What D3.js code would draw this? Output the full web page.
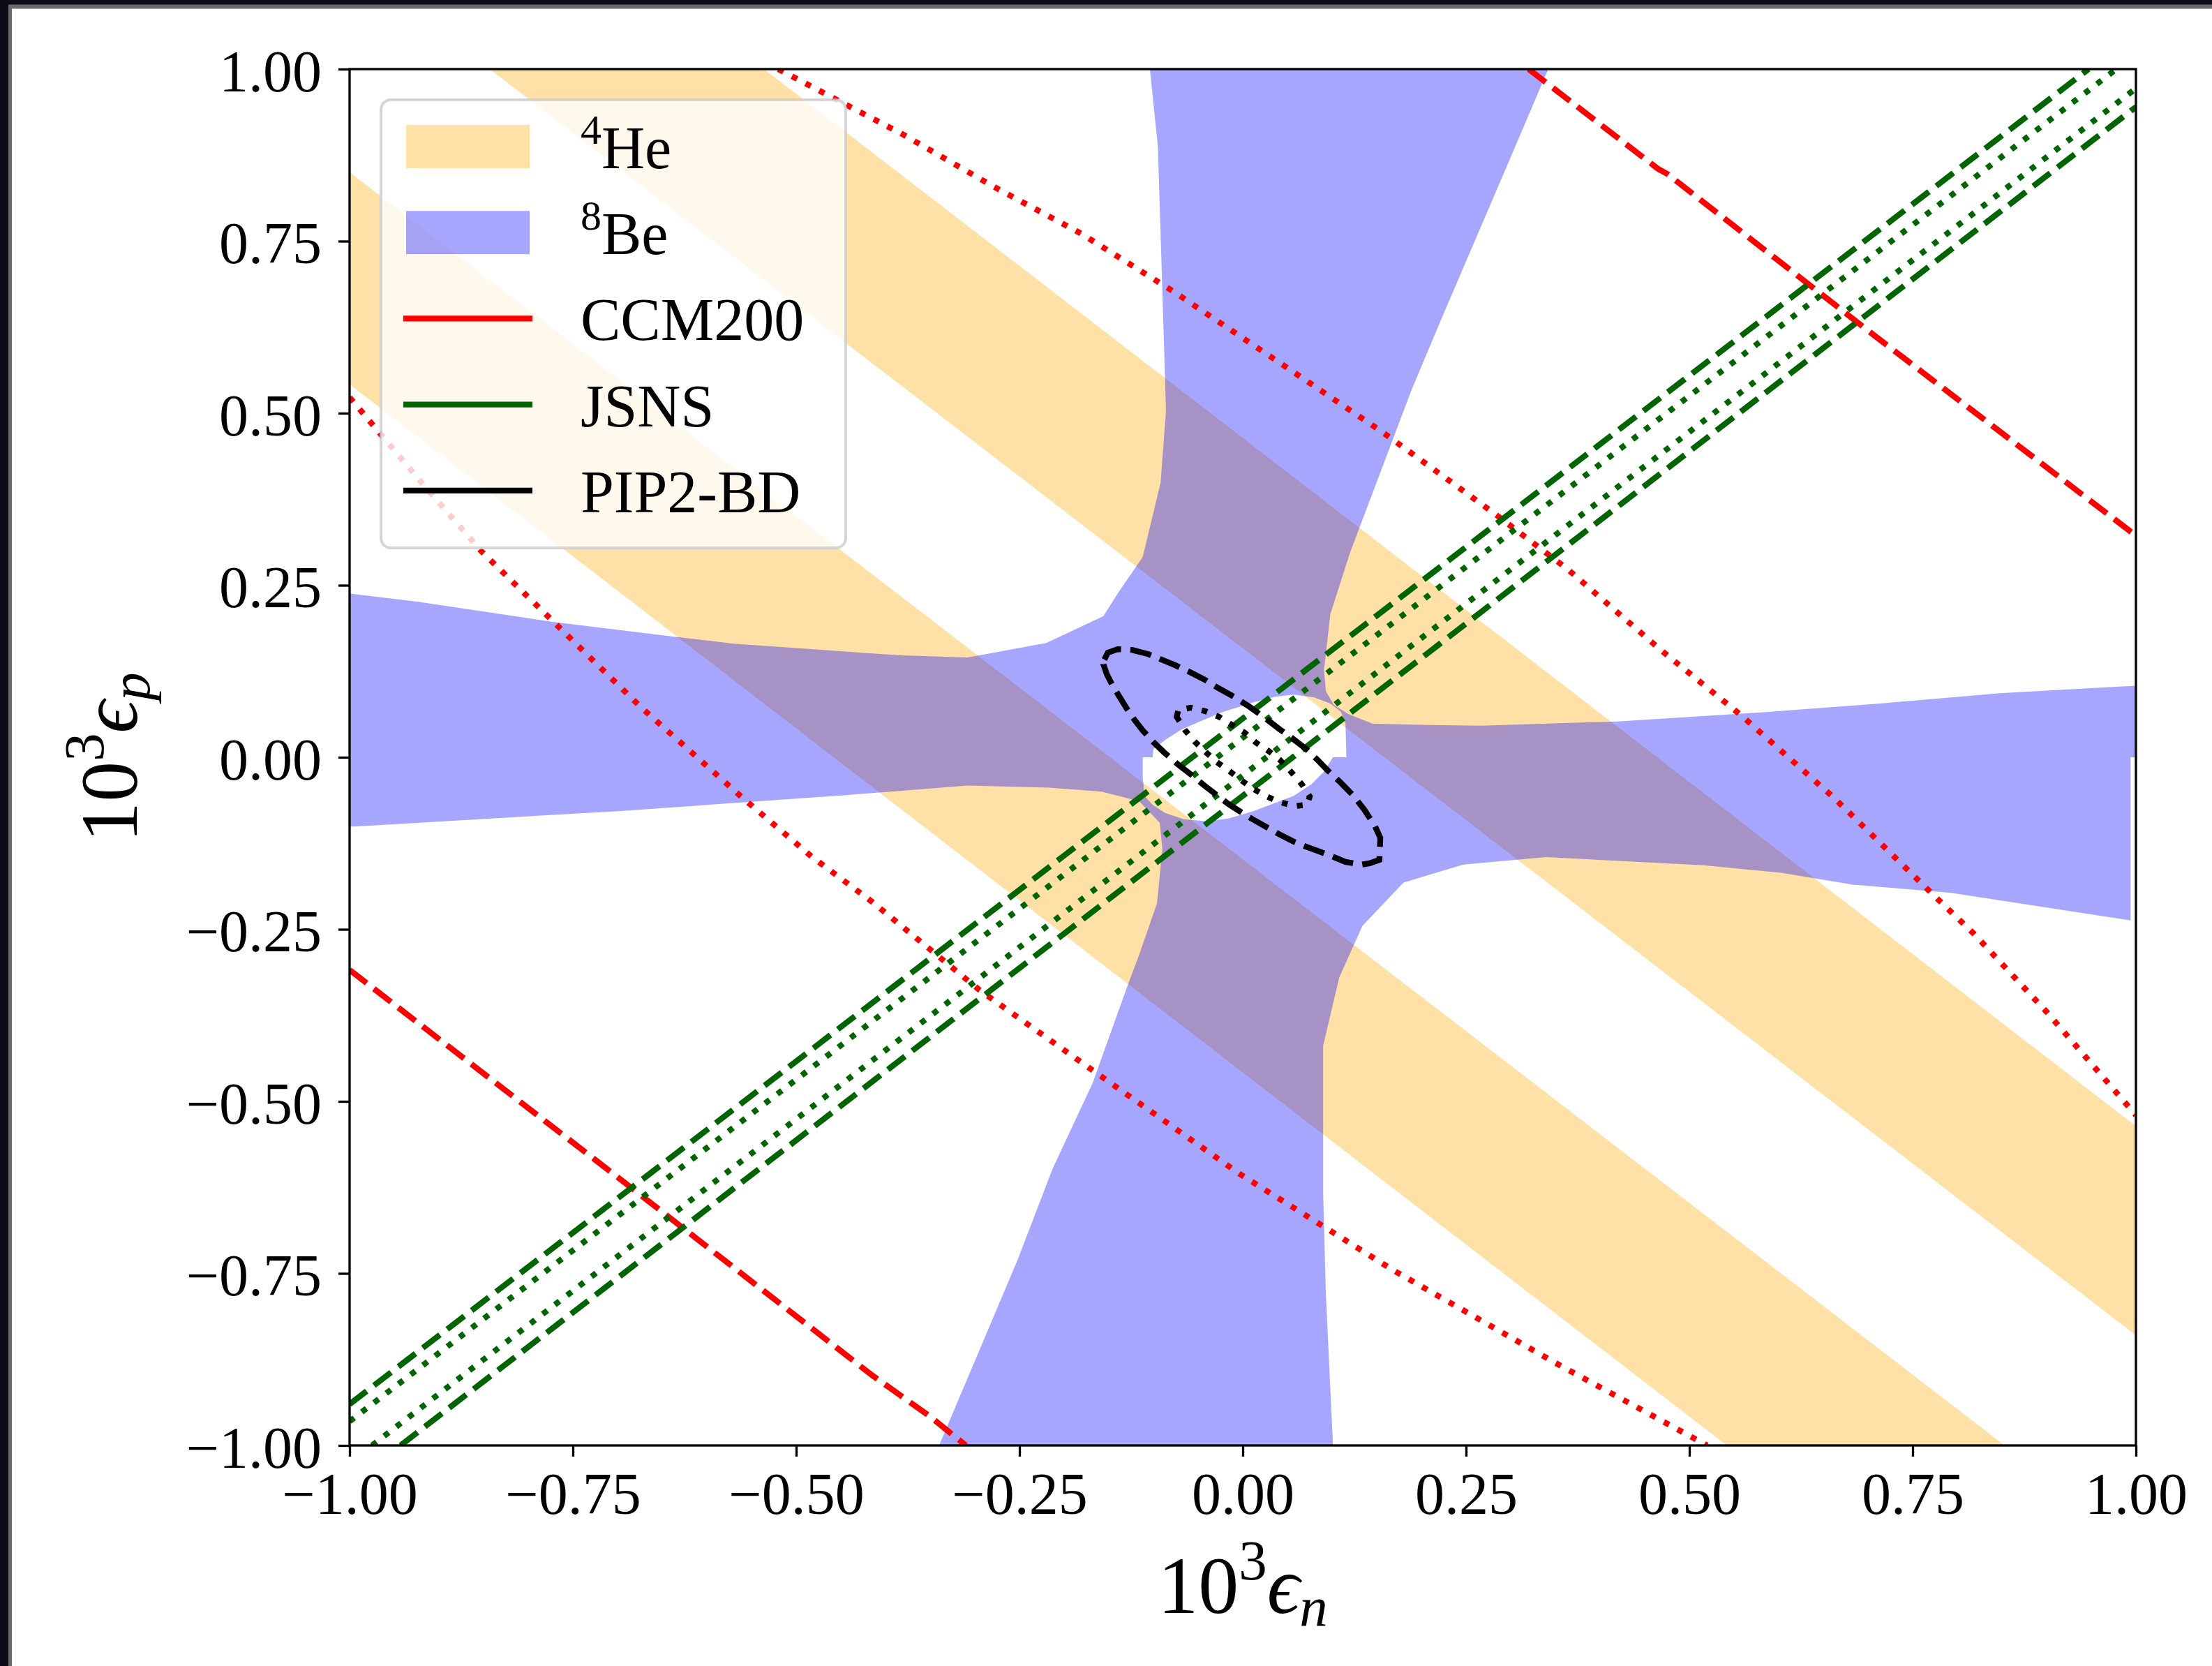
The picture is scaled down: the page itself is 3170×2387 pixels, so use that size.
<!DOCTYPE html>
<html>
<head>
<meta charset="utf-8">
<script src="https://cdn.jsdelivr.net/npm/d3@7"></script>
<style>
  html, body { margin: 0; padding: 0; background: #ffffff; }
  svg { display: block; }
</style>
</head>
<body>
<svg id="chart" width="3170" height="2387"></svg>
<script>
// ---------- data (εn, εp in units of 10^-3) ----------
const xTicks = [-1, -0.75, -0.5, -0.25, 0, 0.25, 0.5, 0.75, 1];
const xTickLabels = ["\u22121.00", "\u22120.75", "\u22120.50", "\u22120.25", "0.00", "0.25", "0.50", "0.75", "1.00"];
const yTicks = [-1, -0.75, -0.5, -0.25, 0, 0.25, 0.5, 0.75, 1];
const yTickLabels = ["\u22121.00", "\u22120.75", "\u22120.50", "\u22120.25", "0.00", "0.25", "0.50", "0.75", "1.00"];

// 4He allowed bands (two strips along εn + εp = const)
const he4BandUpper = [[-0.843, 1.0], [-0.536, 1.0], [1.0, -0.536], [1.0, -0.840]];
const he4BandLower = [[-1.0, 0.850], [-1.0, 0.542], [0.542, -1.0], [0.853, -1.0]];

// 8Be allowed region: outer boundary and the excluded central island
const be8Outer = [
  [-0.104, 1.0], [-0.095, 0.887], [-0.087, 0.549], [-0.086, 0.503], [-0.092, 0.399],
  [-0.112, 0.291], [-0.140, 0.238], [-0.156, 0.205], [-0.220, 0.166], [-0.308, 0.145],
  [-0.382, 0.148], [-0.570, 0.165], [-0.635, 0.175], [-0.774, 0.197], [-0.923, 0.226],
  [-1.0, 0.238], [-1.0, -0.101], [-0.696, -0.078], [-0.444, -0.055], [-0.308, -0.041],
  [-0.217, -0.044], [-0.158, -0.050], [-0.116, -0.064], [-0.093, -0.095], [-0.090, -0.133],
  [-0.096, -0.212], [-0.116, -0.287], [-0.129, -0.332], [-0.168, -0.473], [-0.213, -0.598],
  [-0.252, -0.730], [-0.295, -0.862], [-0.340, -1.0], [0.101, -1.0], [0.093, -0.778],
  [0.090, -0.634], [0.090, -0.419], [0.108, -0.320], [0.134, -0.245], [0.180, -0.182],
  [0.247, -0.156], [0.340, -0.145], [0.516, -0.157], [0.604, -0.168], [0.683, -0.185],
  [0.793, -0.197], [0.994, -0.237], [0.994, 0.0], [1.0, 0.0], [1.0, 0.104],
  [0.847, 0.093], [0.713, 0.078], [0.589, 0.066], [0.419, 0.052], [0.267, 0.046],
  [0.206, 0.047], [0.145, 0.049], [0.118, 0.063], [0.102, 0.076], [0.093, 0.096],
  [0.091, 0.127], [0.098, 0.208], [0.120, 0.297], [0.189, 0.534], [0.224, 0.642],
  [0.297, 0.863], [0.342, 1.0]
];
const be8Hole = [
  [-0.101, 0.0], [-0.100, 0.012], [-0.087, 0.025], [-0.069, 0.040], [-0.048, 0.052],
  [-0.022, 0.066], [0.010, 0.079], [0.036, 0.088], [0.057, 0.091], [0.080, 0.087],
  [0.098, 0.078], [0.110, 0.066], [0.115, 0.049], [0.116, 0.0], [0.101, 0.0],
  [0.090, -0.022], [0.077, -0.039], [0.057, -0.056], [0.031, -0.069], [0.010, -0.079],
  [-0.016, -0.089], [-0.040, -0.093], [-0.066, -0.090], [-0.087, -0.081], [-0.101, -0.069],
  [-0.110, -0.056], [-0.112, -0.029], [-0.112, 0.0]
];

// CCM200 contours
const ccmDashedUpper = [[0.320, 1.0], [0.465, 0.855], [0.475, 0.848], [0.700, 0.620], [1.0, 0.322]];
const ccmDashedLower = [[-1.0, -0.309], [-0.700, -0.610], [-0.415, -0.898], [-0.351, -0.957], [-0.310, -1.0]];
const ccmDottedUpper = [
  [-0.520, 1.0], [-0.379, 0.904], [-0.280, 0.830], [-0.181, 0.761], [-0.079, 0.678],
  [0.060, 0.557], [0.158, 0.471], [0.282, 0.354], [0.364, 0.273], [0.467, 0.157],
  [0.558, 0.061], [0.662, -0.059], [0.770, -0.196], [0.819, -0.257], [0.900, -0.370],
  [1.0, -0.520]
];
const ccmDottedLower = [
  [-1.0, 0.523], [-0.920, 0.400], [-0.853, 0.300], [-0.771, 0.196], [-0.674, 0.073],
  [-0.560, -0.059], [-0.483, -0.144], [-0.415, -0.210], [-0.295, -0.338], [-0.168, -0.455],
  [-0.004, -0.605], [0.168, -0.745], [0.350, -0.880], [0.520, -1.0]
];

// JSNS contours
const jsnsDashedUpper = [[-1.0, -0.940], [0.947, 1.0]];
const jsnsDashedLower = [[-0.943, -1.0], [1.0, 0.945]];
const jsnsDottedUpper = [[-1.0, -0.965], [0.978, 1.0]];
const jsnsDottedLower = [[-0.975, -1.0], [1.0, 0.972]];

// PIP2-BD contours
const pipDashed = [
  [-0.155, 0.142], [-0.151, 0.152], [-0.140, 0.157], [-0.124, 0.156], [-0.106, 0.150],
  [-0.091, 0.142], [-0.076, 0.134], [-0.058, 0.123], [-0.043, 0.113], [-0.028, 0.101],
  [-0.010, 0.088], [0.008, 0.073], [0.026, 0.056], [0.041, 0.041], [0.056, 0.027],
  [0.071, 0.012], [0.083, -0.003], [0.095, -0.019], [0.109, -0.036], [0.124, -0.056],
  [0.136, -0.076], [0.148, -0.100], [0.154, -0.117], [0.153, -0.149], [0.142, -0.154],
  [0.133, -0.156], [0.115, -0.152], [0.100, -0.144], [0.086, -0.137], [0.071, -0.130],
  [0.056, -0.122], [0.041, -0.112], [0.026, -0.101], [0.011, -0.090], [-0.004, -0.078],
  [-0.016, -0.068], [-0.028, -0.056], [-0.043, -0.041], [-0.058, -0.025], [-0.073, -0.010],
  [-0.088, 0.007], [-0.100, 0.022], [-0.112, 0.039], [-0.121, 0.054], [-0.130, 0.071],
  [-0.139, 0.090], [-0.146, 0.105], [-0.152, 0.120], [-0.156, 0.135]
];
const pipDotted = [
  [-0.074, 0.059], [-0.072, 0.069], [-0.058, 0.072], [-0.042, 0.067], [-0.027, 0.059],
  [-0.012, 0.047], [0.002, 0.036], [0.015, 0.021], [0.029, 0.009], [0.041, -0.003],
  [0.054, -0.021], [0.066, -0.039], [0.075, -0.057], [0.072, -0.069], [0.058, -0.071],
  [0.041, -0.065], [0.027, -0.057], [0.012, -0.046], [-0.001, -0.034], [-0.015, -0.020],
  [-0.029, -0.007], [-0.041, 0.007], [-0.054, 0.023], [-0.065, 0.040]
];

// legend entries
const legendSup = ["4", "8", "", "", ""];
const legendText = ["He", "Be", "CCM200", "JSNS", "PIP2-BD"];
const legendKind = ["patch", "patch", "line", "line", "line"];

// ---------- styles ----------
const FONT = "'Liberation Serif', 'DejaVu Serif', serif";
const ORANGE = "rgba(255,165,0,0.35)";
const BLUE = "rgba(0,0,255,0.35)";
const RED = "#ff0000", GREEN = "#006400", BLACK = "#000000";
const LW = 8.3;
const DASH = "30.8,13.3";
const DOT = "8.3,13.75";
const legendColor = [ORANGE, BLUE, RED, GREEN, BLACK];

const W = 3170, H = 2387;
const svg = d3.select("#chart").attr("width", W).attr("height", H);

// window frame along the top and left edges
svg.append("rect").attr("x", 0).attr("y", 0).attr("width", W).attr("height", H).attr("fill", "#ffffff");
svg.append("rect").attr("x", 0).attr("y", 0).attr("width", W).attr("height", 12.5).attr("fill", "#6b6b6b");
svg.append("rect").attr("x", 0).attr("y", 0).attr("width", 17).attr("height", H).attr("fill", "#6b6b6b");
svg.append("rect").attr("x", 0).attr("y", 0).attr("width", W).attr("height", 6.5).attr("fill", "#0c0c18");
svg.append("rect").attr("x", 0).attr("y", 0).attr("width", 12).attr("height", H).attr("fill", "#0c0c18");

const x = d3.scaleLinear().domain([-1, 1]).range([501, 3061]);
const y = d3.scaleLinear().domain([-1, 1]).range([2071, 99]);

svg.append("defs").append("clipPath").attr("id", "plot-area")
  .append("rect")
  .attr("x", x(-1)).attr("y", y(1))
  .attr("width", x(1) - x(-1)).attr("height", y(-1) - y(1));

const plot = svg.append("g").attr("clip-path", "url(#plot-area)");

const ring = pts => "M" + pts.map(p => x(p[0]) + "," + y(p[1])).join("L") + "Z";
const line = d3.line().x(d => x(d[0])).y(d => y(d[1]));
const closed = d3.line().x(d => x(d[0])).y(d => y(d[1])).curve(d3.curveLinearClosed);

// 4He bands
plot.selectAll("path.he4")
  .data([he4BandUpper, he4BandLower])
  .join("path")
  .attr("class", "he4")
  .attr("d", ring)
  .attr("fill", ORANGE);

// 8Be region with its central hole
plot.append("path")
  .attr("d", ring(be8Outer) + ring(be8Hole))
  .attr("fill-rule", "evenodd")
  .attr("fill", BLUE);

// contour lines
const curves = [
  { pts: ccmDottedUpper, color: RED, dash: DOT },
  { pts: ccmDottedLower, color: RED, dash: DOT },
  { pts: ccmDashedUpper, color: RED, dash: DASH },
  { pts: ccmDashedLower, color: RED, dash: DASH },
  { pts: jsnsDashedUpper, color: GREEN, dash: DASH },
  { pts: jsnsDashedLower, color: GREEN, dash: DASH },
  { pts: jsnsDottedUpper, color: GREEN, dash: DOT },
  { pts: jsnsDottedLower, color: GREEN, dash: DOT }
];
plot.selectAll("path.curve")
  .data(curves)
  .join("path")
  .attr("class", "curve")
  .attr("d", d => line(d.pts))
  .attr("fill", "none")
  .attr("stroke", d => d.color)
  .attr("stroke-width", LW)
  .attr("stroke-dasharray", d => d.dash);

plot.append("path").attr("d", closed(pipDashed))
  .attr("fill", "none").attr("stroke", BLACK).attr("stroke-width", LW)
  .attr("stroke-dasharray", DASH);
plot.append("path").attr("d", closed(pipDotted))
  .attr("fill", "none").attr("stroke", BLACK).attr("stroke-width", LW)
  .attr("stroke-dasharray", DOT);

// axes
const xAxis = d3.axisBottom(x)
  .tickValues(xTicks)
  .tickFormat((d, i) => xTickLabels[i])
  .tickSize(16).tickPadding(22).tickSizeOuter(0);
const gx = svg.append("g")
  .attr("transform", `translate(0,${y(-1)})`)
  .call(xAxis)
  .attr("font-family", FONT).attr("font-size", 84);
gx.select(".domain").remove();
gx.selectAll(".tick line").attr("stroke", BLACK).attr("stroke-width", 3.3);
gx.selectAll(".tick text").attr("fill", BLACK);

const yAxis = d3.axisLeft(y)
  .tickValues(yTicks)
  .tickFormat((d, i) => yTickLabels[i])
  .tickSize(16).tickPadding(24).tickSizeOuter(0);
const gy = svg.append("g")
  .attr("transform", `translate(${x(-1)},0)`)
  .call(yAxis)
  .attr("font-family", FONT).attr("font-size", 84);
gy.select(".domain").remove();
gy.selectAll(".tick line").attr("stroke", BLACK).attr("stroke-width", 3.3);
gy.selectAll(".tick text").attr("fill", BLACK).attr("dy", "0.37em");

// plot frame
svg.append("rect")
  .attr("x", x(-1)).attr("y", y(1))
  .attr("width", x(1) - x(-1)).attr("height", y(-1) - y(1))
  .attr("fill", "none").attr("stroke", BLACK).attr("stroke-width", 3.3);

// axis titles
const xTitle = svg.append("text")
  .attr("x", (x(-1) + x(1)) / 2).attr("y", 2311)
  .attr("text-anchor", "middle")
  .attr("font-family", FONT).attr("font-size", 116).attr("fill", BLACK);
xTitle.append("tspan").text("10");
xTitle.append("tspan").attr("font-size", 81).attr("dy", -48).text("3");
xTitle.append("tspan").attr("font-style", "italic").attr("dy", 48).text("\u03f5");
xTitle.append("tspan").attr("font-style", "italic").attr("font-size", 81).attr("dy", 18).text("n");

const yTitle = svg.append("text")
  .attr("transform", `translate(196,${(y(-1) + y(1)) / 2}) rotate(-90)`)
  .attr("text-anchor", "middle")
  .attr("font-family", FONT).attr("font-size", 116).attr("fill", BLACK);
yTitle.append("tspan").text("10");
yTitle.append("tspan").attr("font-size", 81).attr("dy", -48).text("3");
yTitle.append("tspan").attr("font-style", "italic").attr("dy", 48).text("\u03f5");
yTitle.append("tspan").attr("font-style", "italic").attr("font-size", 81).attr("dy", 18).text("p");

// legend
const legend = svg.append("g");
legend.append("rect")
  .attr("x", 546).attr("y", 143).attr("width", 666).attr("height", 642)
  .attr("rx", 14).attr("ry", 14)
  .attr("fill", "rgba(255,255,255,0.8)")
  .attr("stroke", "rgba(204,204,204,0.8)").attr("stroke-width", 4);

const rowY = i => 210 + i * 123.2;
legendText.forEach((t, i) => {
  const cy = rowY(i);
  if (legendKind[i] === "patch") {
    legend.append("rect")
      .attr("x", 582).attr("y", cy - 31).attr("width", 177).attr("height", 62)
      .attr("fill", legendColor[i]);
  } else {
    legend.append("line")
      .attr("x1", 578).attr("x2", 763).attr("y1", cy).attr("y2", cy)
      .attr("stroke", legendColor[i]).attr("stroke-width", LW);
  }
  const label = legend.append("text")
    .attr("x", 832).attr("y", cy + 31)
    .attr("font-family", FONT).attr("font-size", 86).attr("fill", BLACK);
  if (legendSup[i]) {
    label.append("tspan").attr("font-size", 60).attr("dy", -35).text(legendSup[i]);
    label.append("tspan").attr("dy", 35).text(t);
  } else {
    label.append("tspan").text(t);
  }
});
</script>
</body>
</html>
